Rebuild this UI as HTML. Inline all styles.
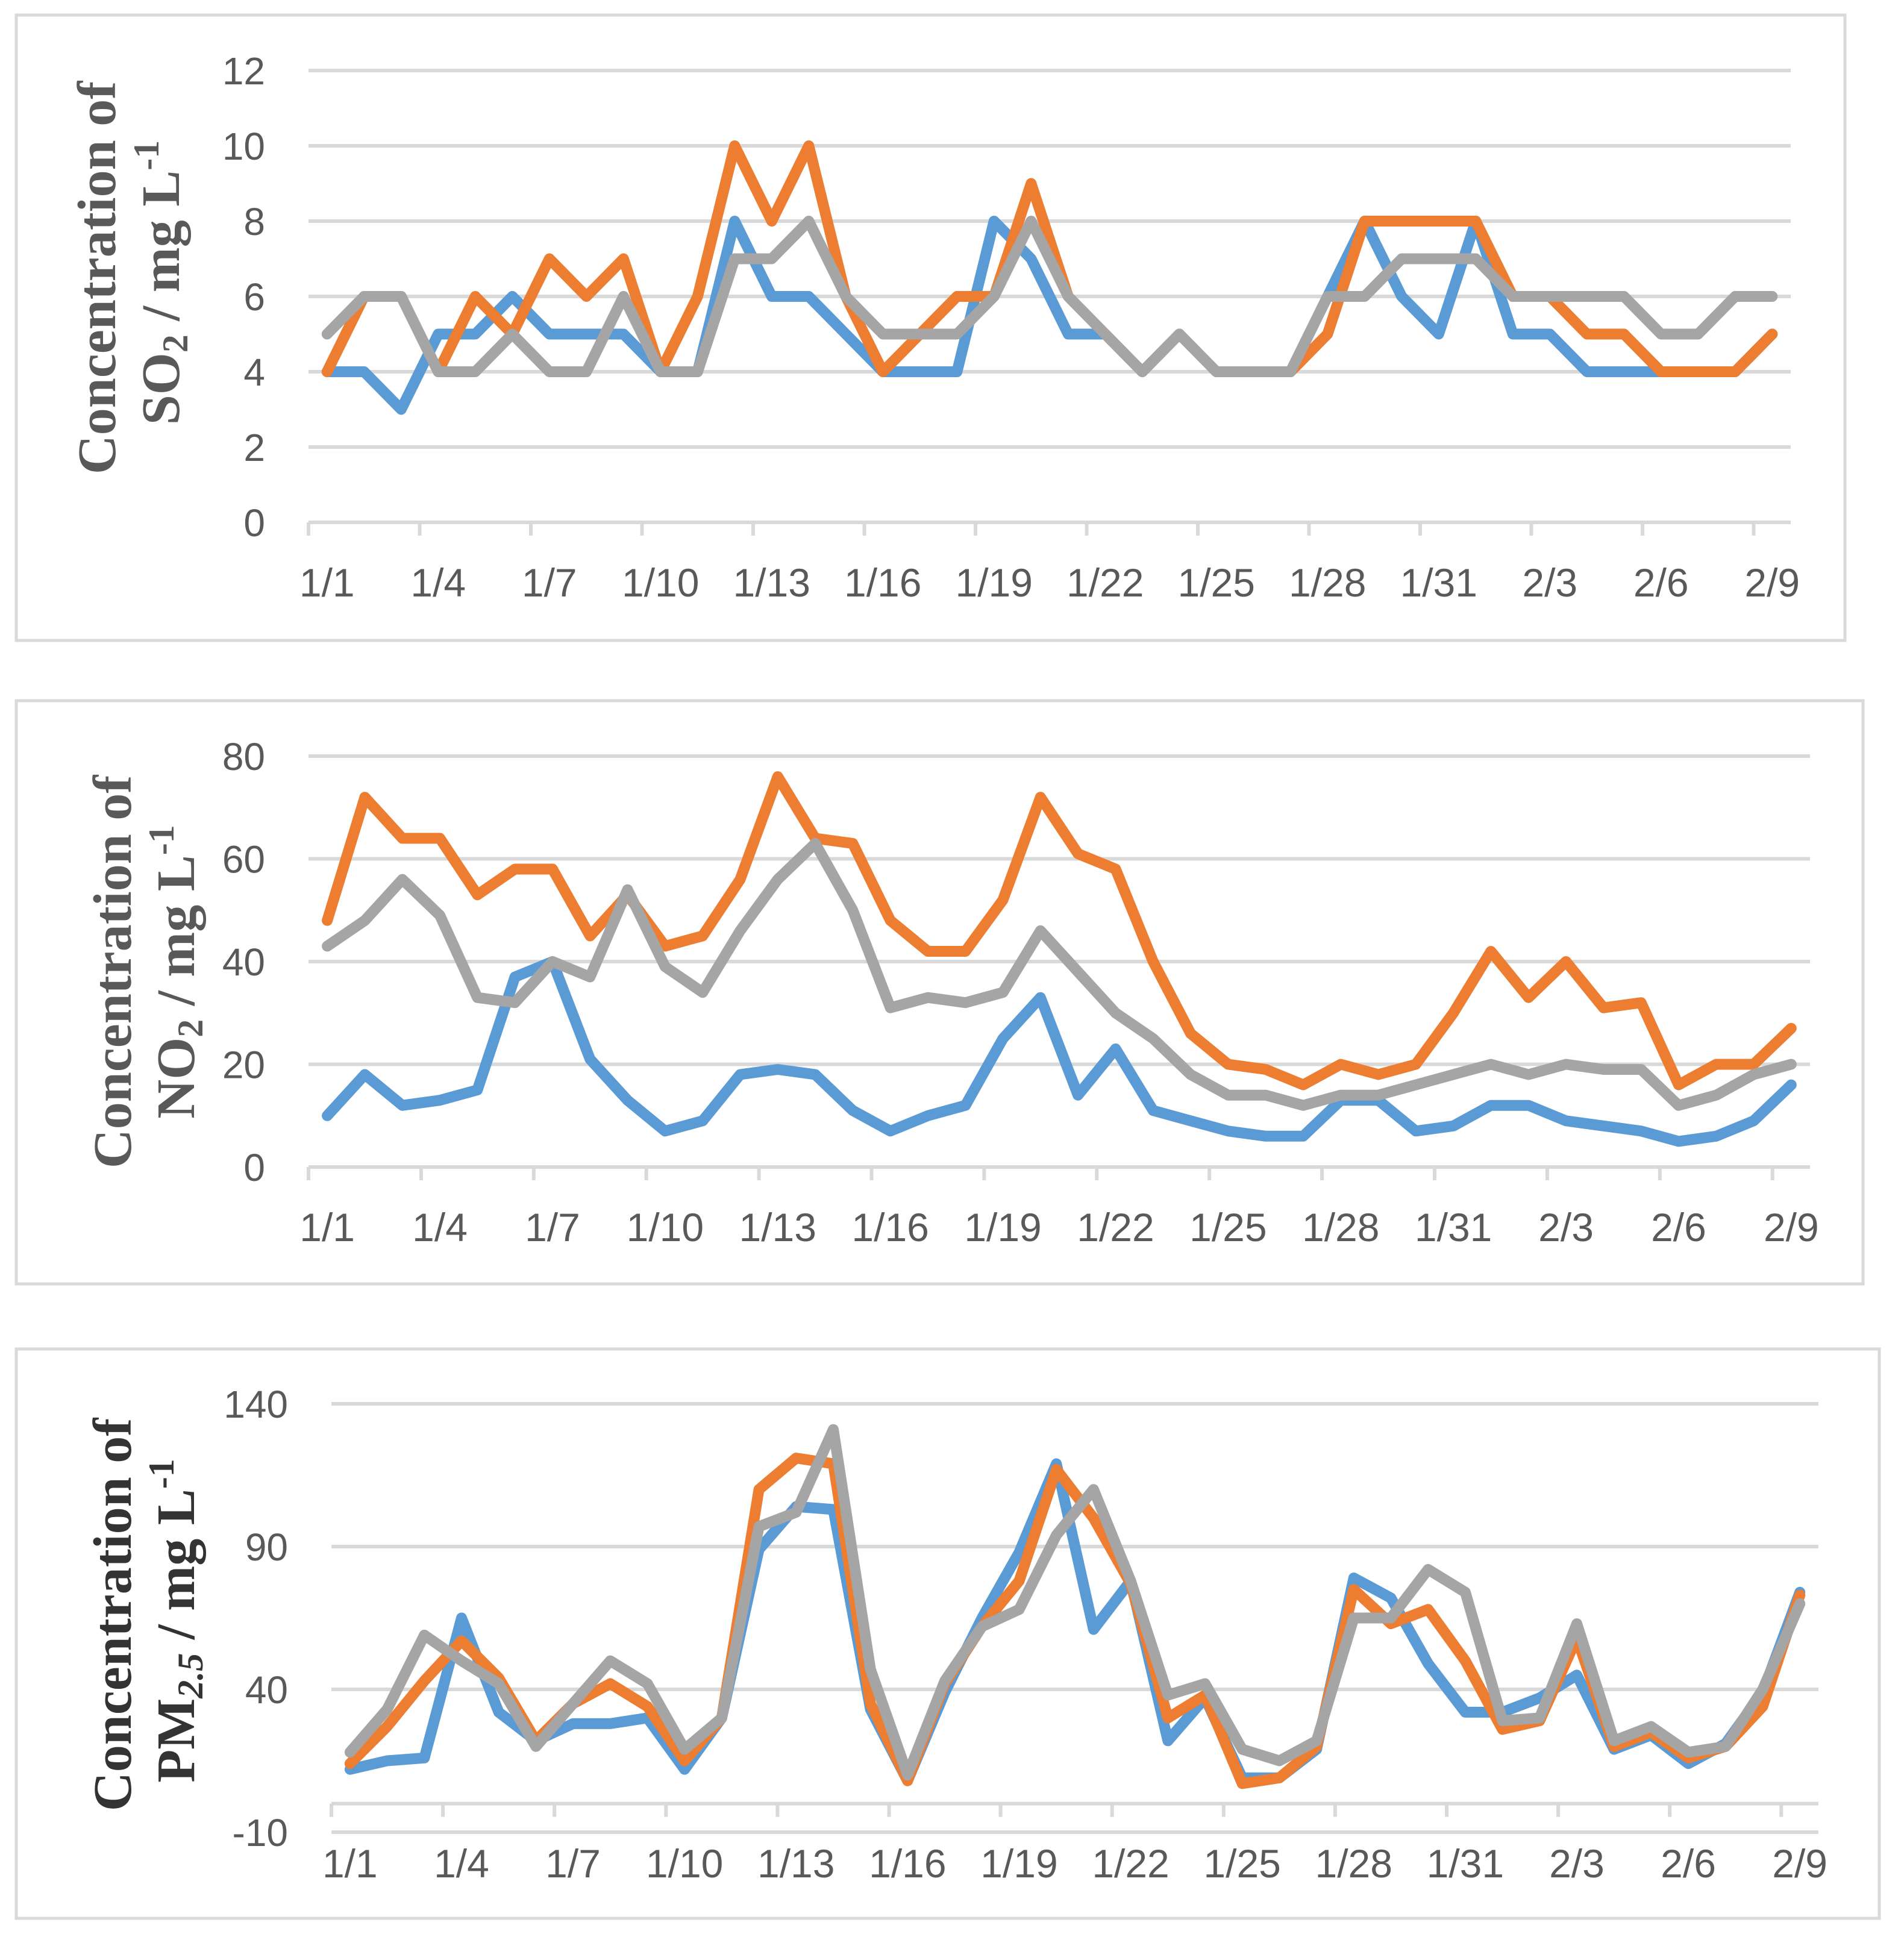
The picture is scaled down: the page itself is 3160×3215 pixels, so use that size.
<!DOCTYPE html>
<html><head><meta charset="utf-8"><style>
html,body{margin:0;padding:0;background:#fff}
svg{display:block}
</style></head><body>
<svg id="fig" xmlns="http://www.w3.org/2000/svg" width="3160" height="3215" viewBox="0 0 3160 3215">
<rect x="0" y="0" width="3160" height="3215" fill="#fff"/>
</svg>
<script>
const dates = ["1/1","1/2","1/3","1/4","1/5","1/6","1/7","1/8","1/9","1/10","1/11","1/12","1/13","1/14","1/15","1/16","1/17","1/18","1/19","1/20","1/21","1/22","1/23","1/24","1/25","1/26","1/27","1/28","1/29","1/30","1/31","2/1","2/2","2/3","2/4","2/5","2/6","2/7","2/8","2/9"];
const so2Blue   = [4,4,3,5,5,6,5,5,5,4,4,8,6,6,5,4,4,4,8,7,5,5,4,5,4,4,4,6,8,6,5,8,5,5,4,4,4,4,4,5];
const so2Orange = [4,6,6,4,6,5,7,6,7,4,6,10,8,10,6,4,5,6,6,9,6,5,4,5,4,4,4,5,8,8,8,8,6,6,5,5,4,4,4,5];
const so2Gray   = [5,6,6,4,4,5,4,4,6,4,4,7,7,8,6,5,5,5,6,8,6,5,4,5,4,4,4,6,6,7,7,7,6,6,6,6,5,5,6,6];
const so2Ticks  = [0,2,4,6,8,10,12];
const no2Blue   = [10,18,12,13,15,37,40,21,13,7,9,18,19,18,11,7,10,12,25,33,14,23,11,9,7,6,6,13,13,7,8,12,12,9,8,7,5,6,9,16];
const no2Orange = [48,72,64,64,53,58,58,45,53,43,45,56,76,64,63,48,42,42,52,72,61,58,40,26,20,19,16,20,18,20,30,42,33,40,31,32,16,20,20,27];
const no2Gray   = [43,48,56,49,33,32,40,37,54,39,34,46,56,63,50,31,33,32,34,46,38,30,25,18,14,14,12,14,14,16,18,20,18,20,19,19,12,14,18,20];
const no2Ticks  = [0,20,40,60,80];
const pmBlue    = [12,15,16,65,32,22,28,28,30,12,30,89,104,103,33,8,39,65,88,119,61,78,22,37,9,9,19,79,72,49,32,32,37,45,19,24,14,21,39,74];
const pmOrange  = [14,27,43,57,44,22,35,42,34,15,30,110,121,119,35,8,42,62,78,117,100,77,30,38,7,9,20,75,63,68,50,26,29,58,20,25,16,20,34,73];
const pmGray    = [18,33,59,50,42,20,35,50,42,19,30,97,102,131,47,10,43,62,68,94,110,78,38,42,19,15,22,65,65,82,74,29,30,63,22,27,18,20,40,70];
const pmTicks   = [-10,40,90,140];

const NS = "http://www.w3.org/2000/svg";
const svg = document.getElementById("fig");
const COLORS = {blue:"#5b9bd5", orange:"#ed7d31", gray:"#a5a5a5"};
function mk(tag, attrs, parent){
  const e = document.createElementNS(NS, tag);
  for (const k in attrs) e.setAttribute(k, attrs[k]);
  (parent||svg).appendChild(e);
  return e;
}

function panel(cfg){
  const g = mk("g", {});
  
  
  const box = mk("rect", {x:cfg.box[0], y:cfg.box[1], width:cfg.box[2]-cfg.box[0], height:cfg.box[3]-cfg.box[1], fill:"none", stroke:"#d9d9d9", "stroke-width":5}, g);
  
  
  const n = dates.length;
  const bw = (cfg.x1 - cfg.x0)/n;
  const xC = i => cfg.x0 + (i+0.5)*bw;
  const yS = v => cfg.yBot + (v - cfg.vmin)/(cfg.vmax - cfg.vmin)*(cfg.yTop - cfg.yBot);
  cfg.ticks.forEach(t => {
    const ln = mk("line", {x1:cfg.x0, x2:cfg.x1, y1:yS(t), y2:yS(t), stroke:"#d9d9d9", "stroke-width":6}, g);
    
    
    const tx = mk("text", {x:cfg.ylabX, y:yS(t)+23, "text-anchor":"end", "font-family":"Liberation Sans, sans-serif", "font-size":64, fill:"#595959"}, g);
    tx.textContent = t;
    
    
  });
  const ay = yS(0);
  const ax = mk("line", {x1:cfg.x0, x2:cfg.x1, y1:ay, y2:ay, stroke:"#d9d9d9", "stroke-width":6}, g);
  
  
  for (let i=0;i<=n;i+=3){
    const tk = mk("line", {x1:cfg.x0+i*bw, x2:cfg.x0+i*bw, y1:ay, y2:ay+22, stroke:"#d9d9d9", "stroke-width":6}, g);
    
    
  }
  for (let i=0;i<n;i+=3){
    const tx = mk("text", {x:xC(i), y:cfg.xlabY, "text-anchor":"middle", "font-family":"Liberation Sans, sans-serif", "font-size":66, fill:"#595959"}, g);
    tx.textContent = dates[i];
    
    
  }
  cfg.series.forEach(s => {
    const pts = s.data.map((v,i)=> xC(i).toFixed(1)+","+yS(v).toFixed(1)).join(" ");
    const pl = mk("polyline", {points:pts, fill:"none", stroke:COLORS[s.color], "stroke-width":18, "stroke-linejoin":"round", "stroke-linecap":"round"}, g);
    
    
  });
  const t1 = mk("text", {transform:`translate(${cfg.t1x},${cfg.tcy}) rotate(-90)`, "text-anchor":"middle", "font-family":"Liberation Serif, serif", "font-weight":"bold", "font-size":90, fill:cfg.tcol}, g);
  t1.textContent = "Concentration of";
  
  
  const t2 = mk("text", {transform:`translate(${cfg.t2x},${cfg.tcy2}) rotate(-90)`, "text-anchor":"middle", "font-family":"Liberation Serif, serif", "font-weight":"bold", "font-size":90, fill:cfg.tcol}, g);
  t2.innerHTML = cfg.title2;
  
  
}

const sub = s => `<tspan font-size="60" dy="14">${s}</tspan><tspan dy="-14"> </tspan>`;
const unit = `/ mg L<tspan font-size="60" dy="-34">-1</tspan>`;

panel({name:"so2-chart", box:[27,25,3062,1063], x0:512, x1:2972, yTop:117, yBot:867, vmin:0, vmax:12,
  ticks:so2Ticks, ylabX:440, xlabY:990, t1x:191, t2x:297, tcy:461, tcy2:469, tcol:"#595959",
  title2:`SO${sub("2")}${unit}`,
  series:[{name:"so2-series-blue",color:"blue",data:so2Blue},{name:"so2-series-orange",color:"orange",data:so2Orange},{name:"so2-series-gray",color:"gray",data:so2Gray}]});

panel({name:"no2-chart", box:[27,1163,3092,2131], x0:512, x1:3004, yTop:1255, yBot:1937, vmin:0, vmax:80,
  ticks:no2Ticks, ylabX:440, xlabY:2060, t1x:217, t2x:322, tcy:1613, tcy2:1613, tcol:"#595959",
  title2:`NO${sub("2")}${unit}`,
  series:[{name:"no2-series-blue",color:"blue",data:no2Blue},{name:"no2-series-orange",color:"orange",data:no2Orange},{name:"no2-series-gray",color:"gray",data:no2Gray}]});

panel({name:"pm25-chart", box:[27,2239,3119,3184], x0:550, x1:3018, yTop:2330, yBot:3041, vmin:-10, vmax:140,
  ticks:pmTicks, ylabX:478, xlabY:3116, t1x:217, t2x:322, tcy:2680, tcy2:2690, tcol:"#333333",
  title2:`PM<tspan font-size="60" font-style="italic" dy="14">2.5</tspan><tspan dy="-14"> </tspan>${unit}`,
  series:[{name:"pm25-series-blue",color:"blue",data:pmBlue},{name:"pm25-series-orange",color:"orange",data:pmOrange},{name:"pm25-series-gray",color:"gray",data:pmGray}]});
</script>
</body></html>
